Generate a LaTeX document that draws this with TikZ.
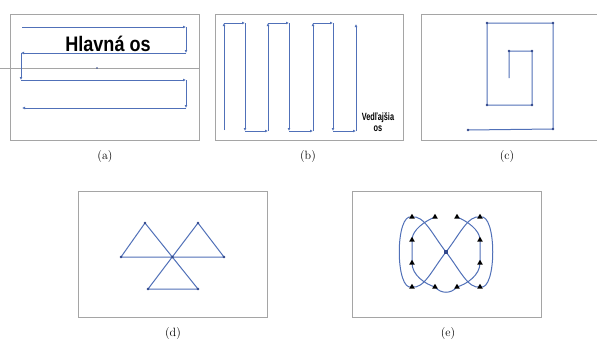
\documentclass[tikz,border=0pt]{standalone}
\usepackage{fontspec}
\newfontfamily\hfont{Liberation Sans Bold}[FakeStretch=0.86]
\newfontfamily\vfont{Liberation Sans Bold}[FakeStretch=0.7]
\usetikzlibrary{arrows.meta,shapes.geometric}
\definecolor{lineblue}{RGB}{80,112,184}
\definecolor{boxgray}{RGB}{165,165,165}
\definecolor{dotblue}{RGB}{50,72,140}
\begin{document}
\begin{tikzpicture}[x=1pt,y=-1pt,
  box/.style={draw=boxgray, line width=0.9pt},
  flow/.style={draw=lineblue, line width=1pt, -{Latex[length=3pt,width=2.8pt]}},
  plain/.style={draw=lineblue, line width=1pt},
  dot/.style={circle, fill=dotblue, inner sep=0pt, minimum size=2.6pt},
  tri/.style={regular polygon, regular polygon sides=3, fill=black, inner sep=0pt, minimum size=6.5pt},
  captxt/.style={font=\fontsize{12}{14}\selectfont}]
\fill[white] (0,0) rectangle (597,343);
\useasboundingbox (0,0) rectangle (597,343);

% ---------- (a) ----------
\draw[box] (10,14) rectangle (199,140);
\draw[draw=boxgray, line width=0.6pt] (0,68) -- (199,68);
\node[dot, minimum size=1.8pt] (acen) at (97,68) {};
\coordinate (a0) at (22,27);
\coordinate (a1) at (186,27);
\coordinate (a2) at (186,53);
\coordinate (a3) at (21,53);
\coordinate (a4) at (21,80);
\coordinate (a5) at (186,80);
\coordinate (a6) at (186,108);
\coordinate (a7) at (22,108);
\foreach \p/\q in {a0/a1,a1/a2,a2/a3,a3/a4,a4/a5,a5/a6,a6/a7}
  \draw[flow] (\p) -- (\q);
\node[anchor=base, inner sep=0pt, font=\hfont\fontsize{21}{21}\selectfont] (hl) at (108,51.5) {Hlavná os};
\node[captxt] (la) at (105,157) {(a)};

% ---------- (b) ----------
\draw[box] (215,14) rectangle (403,140);
\coordinate (b0) at (224,130);
\coordinate (b1) at (224,23);
\coordinate (b2) at (245,23);
\coordinate (b3) at (245,131);
\coordinate (b4) at (268,131);
\coordinate (b5) at (268,23);
\coordinate (b6) at (289,23);
\coordinate (b7) at (289,131);
\coordinate (b8) at (313,131);
\coordinate (b9) at (313,23);
\coordinate (b10) at (333,23);
\coordinate (b11) at (333,131);
\coordinate (b12) at (356,131);
\coordinate (b13) at (356,24);
\foreach \p/\q in {b0/b1,b1/b2,b2/b3,b3/b4,b4/b5,b5/b6,b6/b7,b7/b8,b8/b9,b9/b10,b10/b11,b11/b12,b12/b13}
  \draw[flow] (\p) -- (\q);
\node[align=center, inner sep=0pt, font=\vfont\fontsize{10.5}{11.5}\selectfont] (vos) at (378,122) {Vedľajšia\\os};
\node[captxt] (lb) at (308,157) {(b)};

% ---------- (c) ----------
\draw[box] (597,14) -- (421,14) -- (421,140) -- (597,140);
\coordinate (c0) at (468,130);
\coordinate (c1) at (553,129);
\coordinate (c2) at (553,23);
\coordinate (c3) at (487,23);
\coordinate (c4) at (487,105);
\coordinate (c5) at (532,105);
\coordinate (c6) at (532,51);
\coordinate (c7) at (509,51);
\coordinate (c8) at (509,78);
\draw[plain] (c0) -- (c1) -- (c2) -- (c3) -- (c4) -- (c5) -- (c6) -- (c7) -- (c8);
\foreach \p in {c0,c1,c2,c3,c4,c5,c6,c7}
  \node[dot] at (\p) {};
\node[captxt] (lc) at (507,157) {(c)};

% ---------- (d) ----------
\draw[box] (78,191) rectangle (267,317);
\coordinate (dL) at (121,257);
\coordinate (dLA) at (145,223);
\coordinate (dC) at (172.5,257);
\coordinate (dRA) at (198,223);
\coordinate (dR) at (224,257);
\coordinate (dBL) at (148,289);
\coordinate (dBR) at (198,289);
\draw[plain] (dL) -- (dLA) -- (dBR) -- (dBL) -- (dRA) -- (dR) -- (dL);
\foreach \p in {dL,dLA,dC,dRA,dR,dBL,dBR}
  \node[dot] at (\p) {};
\node[captxt] (ld) at (173,334) {(d)};

% ---------- (e) ----------
\draw[box] (352,191) rectangle (541,317);
\coordinate (eC) at (446,252);
\coordinate (eTL) at (412,217);
\coordinate (eT2) at (435,217);
\coordinate (eT3) at (457,217);
\coordinate (eTR) at (480,217);
\coordinate (eL1) at (412,240);
\coordinate (eL2) at (412,263);
\coordinate (eR1) at (480,240);
\coordinate (eR2) at (480,263);
\coordinate (eBL) at (412,287);
\coordinate (eB2) at (435,287);
\coordinate (eB3) at (457,287);
\coordinate (eBR) at (480,287);
% lemniscate
\draw[plain] (eTL) .. controls (424,215) and (432,234) .. (eC)
  .. controls (460,270) and (468,289) .. (eBR)
  .. controls (497,292) and (497,212) .. (eTR)
  .. controls (468,215) and (460,234) .. (eC)
  .. controls (432,270) and (424,289) .. (eBL)
  .. controls (395,292) and (395,212) .. (eTL);
% inner open loop
\draw[plain] (eT2) .. controls (425,221) and (412,230) .. (eL1) -- (eL2)
  .. controls (412,275) and (425,284) .. (eB2)
  .. controls (441,294) and (451,294) .. (eB3)
  .. controls (467,284) and (480,275) .. (eR2) -- (eR1)
  .. controls (480,230) and (467,221) .. (eT3);
\node[rectangle, fill=dotblue, inner sep=0pt, minimum size=3.5pt] (ecen) at (eC) {};
\foreach \p in {eTL,eT2,eT3,eTR,eL1,eL2,eR1,eR2,eBL,eB2,eB3,eBR}
  \node[tri] at (\p) {};
\node[captxt] (le) at (448,334) {(e)};
\end{tikzpicture}
\end{document}
